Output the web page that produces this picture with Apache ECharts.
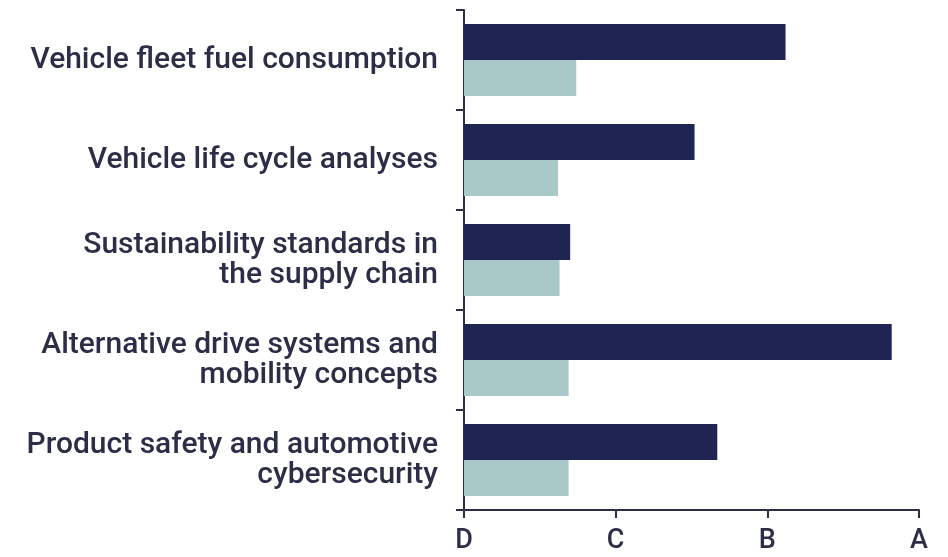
<!DOCTYPE html>
<html>
<head>
<meta charset="utf-8">
<script src="https://cdn.jsdelivr.net/npm/echarts@6/dist/echarts.min.js"></script>
<style>html,body{margin:0;padding:0;background:#fff}#c{width:948px;height:557px}</style>
</head>
<body>
<div id="c"></div>
<script>
const categories = [
  "Vehicle fleet fuel consumption",
  "Vehicle life cycle analyses",
  "Sustainability standards in\nthe supply chain",
  "Alternative drive systems and\nmobility concepts",
  "Product safety and automotive\ncybersecurity"
];
// grade scale: D = 1, C = 2, B = 3, A = 4
const gradeLabels = {1: "D", 2: "C", 3: "B", 4: "A"};
const seriesDark = [3.12, 2.52, 1.70, 3.82, 2.67];
const seriesLight = [1.74, 1.62, 1.63, 1.69, 1.69];

const chart = echarts.init(document.getElementById('c'));
const axisColor = '#2b2e46';
chart.setOption({
  animation: false,
  grid: {left: 464, right: 29, top: 10, bottom: 47},
  xAxis: {
    type: 'value', min: 1, max: 4, interval: 1,
    axisLine: {show: true, lineStyle: {color: axisColor, width: 2}},
    axisTick: {show: true, length: 8, lineStyle: {color: axisColor, width: 2}},
    splitLine: {show: false},
    axisLabel: {
      formatter: v => gradeLabels[v] || '',
      color: axisColor, fontFamily: 'Roboto', fontWeight: 500, fontSize: 27, margin: 18
    }
  },
  yAxis: {
    type: 'category', data: categories, inverse: true,
    axisLine: {show: true, lineStyle: {color: axisColor, width: 2}},
    axisTick: {show: true, length: 8, lineStyle: {color: axisColor, width: 2}},
    axisLabel: {
      color: axisColor, fontFamily: 'Roboto', fontWeight: 500, fontSize: 30, lineHeight: 30,
      margin: 26, align: 'right', padding: [4, 0, 0, 0]
    }
  },
  series: [
    {type: 'bar', data: seriesDark, itemStyle: {color: '#1f2452'},
     barGap: '0%', barCategoryGap: '28%'},
    {type: 'bar', data: seriesLight, itemStyle: {color: '#a9c9c8'},
     barGap: '0%', barCategoryGap: '28%'}
  ]
});
</script>
</body>
</html>
